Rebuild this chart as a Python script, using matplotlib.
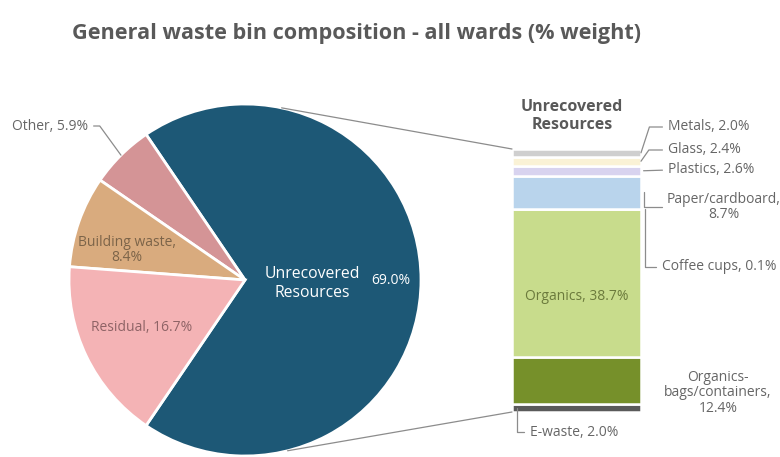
import matplotlib
matplotlib.use("Agg")
import matplotlib.pyplot as plt
from matplotlib.patches import ConnectionPatch
import numpy as np

plt.rcParams['font.family'] = ['Open Sans', 'DejaVu Sans']

# Main pie: share of total bin weight
pie_labels = ['Unrecovered\nResources', 'Other', 'Building waste', 'Residual']
pie_values = [69.0, 5.9, 8.4, 16.7]
pie_colors = ['#1d5876', '#d49496', '#d9ab7e', '#f4b3b5']

# Breakdown of the "Unrecovered Resources" slice, listed bottom to top
bar_labels = ['E-waste', 'Organics-\nbags/containers', 'Organics', 'Coffee cups',
              'Paper/cardboard', 'Plastics', 'Glass', 'Metals']
bar_values = [2.0, 12.4, 38.7, 0.1, 8.7, 2.6, 2.4, 2.0]
bar_colors = ['#5a5a5a', '#76902a', '#c8dc8c', '#f6efcf', '#b9d4ec',
              '#d8d3ef', '#faf2d6', '#cfcfcf']

W, H = 780, 457
fig = plt.figure(figsize=(W / 100, H / 100), dpi=100)


def fpos(x, y):
    # pixel position (from top-left) -> figure fraction
    return x / W, 1 - y / H


def box(x0, y0, x1, y1):
    return [x0 / W, 1 - y1 / H, (x1 - x0) / W, (y1 - y0) / H]


fig.text(*fpos(72, 34), 'General waste bin composition - all wards (% weight)',
         fontsize=15.6, fontweight='bold', color='#595959', ha='left', va='center')

# ---- pie ----
cx, cy, r = 245, 280, 176
ax_pie = fig.add_axes(box(cx - r, cy - r, cx + r, cy + r))
start = -pie_values[0] / 100 * 180
wedges, _ = ax_pie.pie(pie_values, colors=pie_colors, startangle=start, radius=1,
                       counterclock=True,
                       wedgeprops=dict(edgecolor='white', linewidth=2))
ax_pie.set_xlim(-1, 1)
ax_pie.set_ylim(-1, 1)
ax_pie.set_aspect('equal')
ax_pie.axis('off')

ax_pie.text(0.38, -0.02, 'Unrecovered\nResources', color='white', fontsize=11.3,
            ha='center', va='center', linespacing=1.2)
ax_pie.text(0.83, 0.0, f'{pie_values[0]:.1f}%', color='white', fontsize=10,
            ha='center', va='center')
ax_pie.text(-0.59, -0.27, f'Residual, {pie_values[3]:.1f}%', color='#8e6366',
            fontsize=10, ha='center', va='center')
ax_pie.text(-0.67, 0.17, f'Building waste,\n{pie_values[2]:.1f}%', color='#7c6449',
            fontsize=10, ha='center', va='center', linespacing=1.05)

# "Other" label sits outside with a leader line
w = wedges[1]
mid = np.deg2rad((w.theta1 + w.theta2) / 2)
ax_pie.annotate(f'Other, {pie_values[1]:.1f}%', xy=(np.cos(mid), np.sin(mid)),
                xytext=fpos(50, 126), textcoords='figure fraction',
                fontsize=10, color='#666666', ha='center', va='center',
                arrowprops=dict(arrowstyle='-', color='#8c8c8c', lw=0.9,
                                relpos=(1, 0.5), shrinkA=2, shrinkB=0,
                                connectionstyle='angle,angleA=0,angleB=-54,rad=0'))

# ---- stacked bar ----
ax_bar = fig.add_axes(box(512, 149, 641, 412))
total = sum(bar_values)
bottoms = np.concatenate([[0], np.cumsum(bar_values)[:-1]])
ax_bar.bar(0, bar_values, bottom=bottoms, width=1, color=bar_colors,
           edgecolor='white', linewidth=1.8)
ax_bar.set_xlim(-0.5, 0.5)
ax_bar.set_ylim(0, total)
ax_bar.axis('off')

fig.text(*fpos(572, 116), 'Unrecovered\nResources', fontsize=11.5, fontweight='bold',
         color='#595959', ha='center', va='center', linespacing=1.15)

mids = bottoms + np.array(bar_values) / 2
idx = {name: i for i, name in enumerate(bar_labels)}
org = idx['Organics']
ax_bar.text(0, mids[org] - 3.5, f'Organics, {bar_values[org]:.1f}%', fontsize=10,
            color='#6b7a3c', ha='center', va='center')

lead = dict(arrowstyle='-', color='#8c8c8c', lw=0.9, shrinkA=2, shrinkB=0)


def side_label(name, text, txy, xfrac, ha, conn, relpos=(0, 0.5), ls=1.05):
    i = idx[name]
    ax_bar.annotate(text, xy=(xfrac, mids[i]),
                    xycoords=('axes fraction', 'data'),
                    xytext=fpos(*txy), textcoords='figure fraction',
                    fontsize=10, color='#666666', ha=ha, va='center',
                    linespacing=ls,
                    arrowprops=dict(lead, relpos=relpos, connectionstyle=conn))


side_label('Metals', f'Metals, {bar_values[idx["Metals"]]:.1f}%', (668, 127), 1.0,
           'left', 'angle,angleA=0,angleB=72,rad=0')
side_label('Glass', f'Glass, {bar_values[idx["Glass"]]:.1f}%', (668, 150), 1.0,
           'left', 'angle,angleA=0,angleB=55,rad=0')
side_label('Plastics', f'Plastics, {bar_values[idx["Plastics"]]:.1f}%', (668, 170), 1.02,
           'left', 'arc3,rad=0')
side_label('Paper/cardboard', f'Paper/cardboard,\n{bar_values[idx["Paper/cardboard"]]:.1f}%',
           (724, 207), 1.02, 'center', 'angle,angleA=0,angleB=90,rad=0',
           relpos=(0, 0.5))
side_label('Coffee cups', f'Coffee cups, {bar_values[idx["Coffee cups"]]:.1f}%',
           (662, 267), 1.03, 'left', 'angle,angleA=0,angleB=90,rad=0')
side_label('E-waste', f'E-waste, {bar_values[idx["E-waste"]]:.1f}%', (530, 432), 0.04,
           'left', 'angle,angleA=0,angleB=90,rad=0')

i = idx['Organics-\nbags/containers']
fig.text(*fpos(718, 393), f'Organics-\nbags/containers,\n{bar_values[i]:.1f}%',
         fontsize=10, color='#666666', ha='center', va='center', linespacing=1.05)

# ---- lines linking the big slice to the bar ----
for ang, yb in [(78, total), (-76, 0)]:
    a = np.deg2rad(ang)
    con = ConnectionPatch(xyA=(np.cos(a), np.sin(a)), coordsA=ax_pie.transData,
                          xyB=(-0.5, yb), coordsB=ax_bar.transData,
                          color='#8c8c8c', lw=0.9)
    fig.add_artist(con)

fig.savefig('out.png', dpi=100)
